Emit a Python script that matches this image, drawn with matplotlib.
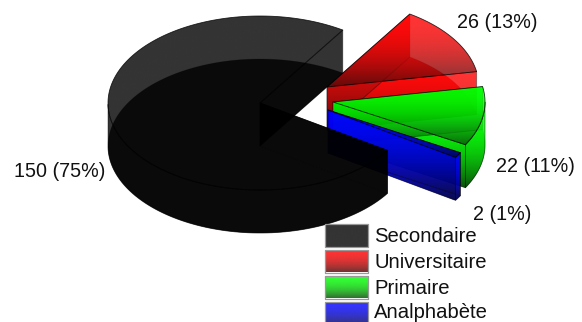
import numpy as np
import matplotlib
matplotlib.use("Agg")
import matplotlib.pyplot as plt
from matplotlib.patches import Polygon

plt.rcParams['font.family'] = ['Liberation Sans', 'DejaVu Sans']

# Survey data: level of education
categories = ["Secondaire", "Universitaire", "Primaire", "Analphabète"]
values = [150, 26, 22, 2]
base_colors = [(0, 0, 0), (1, 0, 0), (0, 1, 0), (0, 0, 1)]

# Pie geometry in pixels
CX, CY = 260, 103
RX, RY = 152, 87
DEPTH = 43
START_ANGLE = 327
offsets = [(0, 0), (67, -16), (73, -1), (68, 7)]
paint_order = [1, 2, 3, 0]
label_pos = [(60, 171), (497, 22), (535, 166), (502, 214)]

W, H = 582, 322
fig = plt.figure(figsize=(W / 100, H / 100), dpi=100)
ax = fig.add_axes([0, 0, 1, 1])
ax.set_axis_off()

layer = [10]


def gradient_face(points, color, edge=(0, 0, 0), lw=0.6, edge_alpha=0.65):
    """Fill a polygon with a translucent top-to-bottom gradient, then outline it."""
    pts = np.asarray(points)
    x0, y0 = pts.min(axis=0)
    x1, y1 = pts.max(axis=0)
    t = np.linspace(0, 1, 128)[:, None]
    rgba = np.zeros((128, 1, 4))
    for i in range(3):
        rgba[:, :, i] = color[i] * (1 - 0.72 * t ** 2)
    rgba[:, :, 3] = 0.8
    layer[0] += 1
    im = ax.imshow(rgba, extent=(x0, x1, y1, y0), origin="upper", aspect="auto",
                   interpolation="bilinear", zorder=layer[0])
    poly = Polygon(pts, closed=True, transform=ax.transData, fill=False, lw=0)
    ax.add_patch(poly)
    im.set_clip_path(poly)
    layer[0] += 1
    ax.add_patch(Polygon(pts, closed=True, fill=False, lw=lw,
                         edgecolor=edge + (edge_alpha,), zorder=layer[0],
                         joinstyle="round"))


def project(theta_deg, radius, z, off):
    th = np.radians(theta_deg)
    return np.column_stack([CX + off[0] + RX * radius * np.cos(th),
                            CY + off[1] - RY * radius * np.sin(th) + z])


# Slices run clockwise from the starting angle
total = sum(values)
spans = []
angle = START_ANGLE
for v in values:
    sweep = v / total * 360
    spans.append((angle - sweep, angle))
    angle -= sweep

for idx in paint_order:
    a0, a1 = spans[idx]
    off = offsets[idx]
    col = base_colors[idx]
    arc = np.linspace(a0, a1, 160)
    apex_top = project(np.array([0.0]), 0, 0, off)
    apex_bot = project(np.array([0.0]), 0, DEPTH, off)

    # floor of the slice, seen through the lid, so its outline stays faint
    gradient_face(np.vstack([apex_bot, project(arc, 1, DEPTH, off)]), col, edge_alpha=0.2)
    # the two radial cut walls
    for a in (a0, a1):
        rim_top = project(np.array([a]), 1, 0, off)
        rim_bot = project(np.array([a]), 1, DEPTH, off)
        gradient_face(np.vstack([apex_top, rim_top, rim_bot, apex_bot]), col, edge_alpha=0.4)
    # curved wall, only the part that faces the viewer
    sin_neg = np.sin(np.radians(arc)) <= 0
    if sin_neg.sum() > 1:
        front = arc[sin_neg]
        gradient_face(np.vstack([project(front, 1, 0, off),
                                 project(front[::-1], 1, DEPTH, off)]), col, edge_alpha=0.5)
    # lid of the slice
    gradient_face(np.vstack([apex_top, project(arc, 1, 0, off)]), col, edge_alpha=0.8)

# Value labels
for v, (lx, ly) in zip(values, label_pos):
    ax.text(lx, ly, f"{v} ({round(v / total * 100)}%)", fontsize=14.2, ha="center",
            va="center", color="#111111", zorder=500)

# Legend
box_x, box_w, box_h = 324.5, 43.5, 23
box_tops = [223.5, 249.5, 275.5, 301.5]
for name, col, top in zip(categories, base_colors, box_tops):
    rect = [(box_x, top), (box_x + box_w, top), (box_x + box_w, top + box_h), (box_x, top + box_h)]
    gradient_face(rect, col, edge=(0.6, 0.6, 0.6), lw=0.9, edge_alpha=1.0)
    ax.text(374, min(top + 13, 312), name, fontsize=14.6, ha="left", va="center",
            color="#111111", zorder=500)

ax.set_xlim(0, W)
ax.set_ylim(H, 0)
fig.savefig("out.png", dpi=100, facecolor="white")
